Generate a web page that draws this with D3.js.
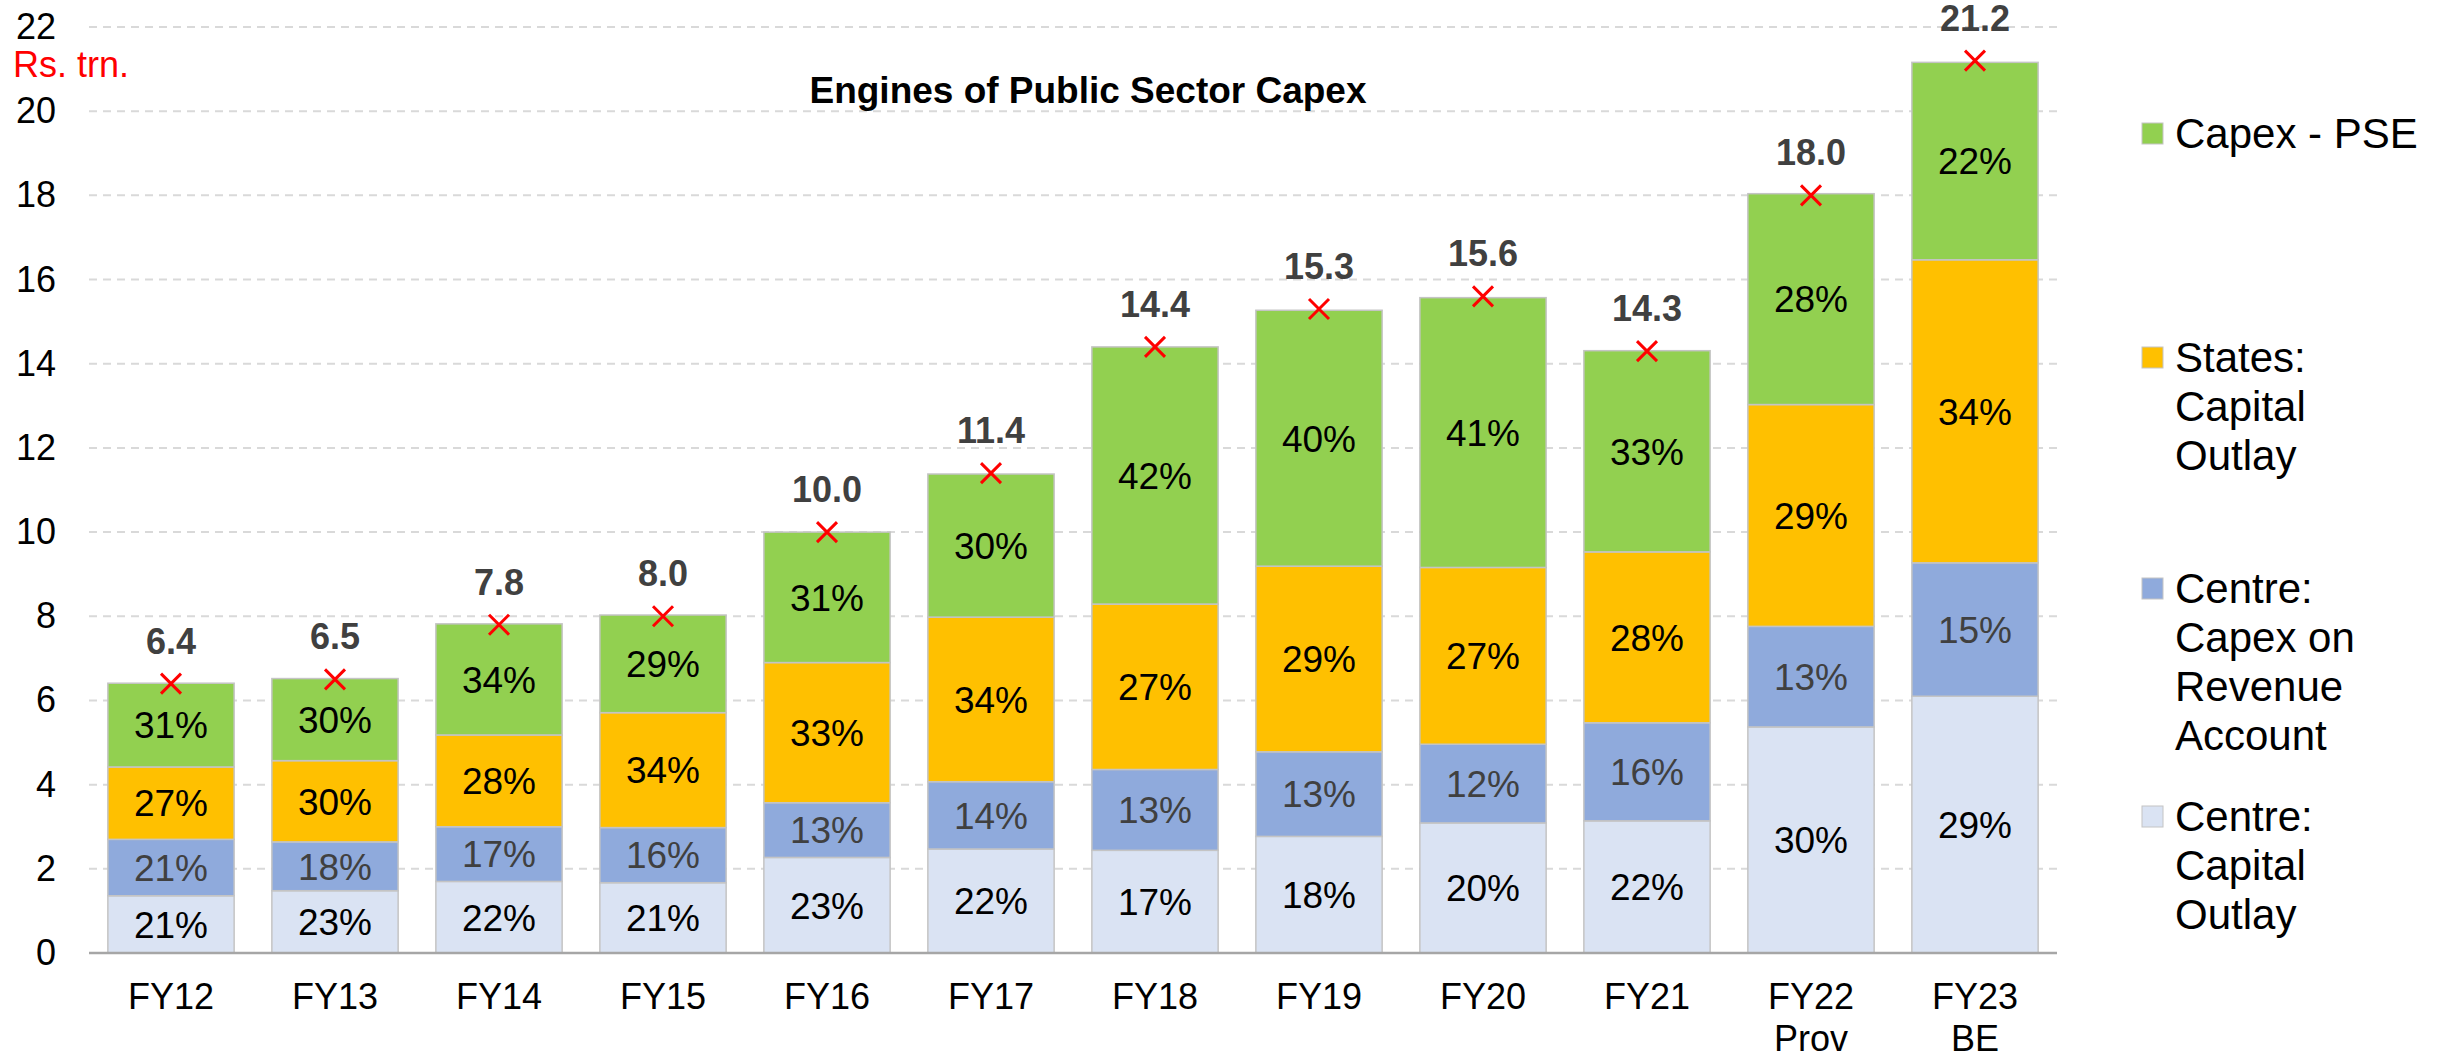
<!DOCTYPE html>
<html>
<head>
<meta charset="utf-8">
<script src="https://cdn.jsdelivr.net/npm/d3@7"></script>
<style>
  html, body { margin: 0; padding: 0; background: #fff; }
  svg { display: block; font-family: 'Liberation Sans', Arial, sans-serif; }
</style>
</head>
<body>
<div id="chart"></div>
<script>
let categories = ['FY12', 'FY13', 'FY14', 'FY15', 'FY16', 'FY17', 'FY18', 'FY19', 'FY20', 'FY21', 'FY22\nProv', 'FY23\nBE']

// Rs. trn. (bottom to top)
let centreCapital = [1.36, 1.48, 1.70, 1.67, 2.27, 2.47, 2.44, 2.77, 3.09, 3.14, 5.37, 6.10]
let centreRevenue = [1.34, 1.16, 1.30, 1.31, 1.30, 1.60, 1.92, 2.01, 1.87, 2.33, 2.39, 3.17]
let statesCapital = [1.72, 1.93, 2.18, 2.73, 3.33, 3.91, 3.93, 4.41, 4.20, 4.06, 5.27, 7.20]
let capexPSE = [1.99, 1.95, 2.64, 2.32, 3.10, 3.40, 6.11, 6.08, 6.41, 4.78, 5.01, 4.69]
let totals = [6.4, 6.5, 7.8, 8.0, 10.0, 11.4, 14.4, 15.3, 15.6, 14.3, 18.0, 21.2]

let yTicks = [0, 2, 4, 6, 8, 10, 12, 14, 16, 18, 20, 22]

let series = [
  { key: 'cc', name: ['Centre:', 'Capital', 'Outlay'], values: centreCapital, color: '#DAE3F3', text: '#000' },
  { key: 'cr', name: ['Centre:', 'Capex on', 'Revenue', 'Account'], values: centreRevenue, color: '#8FAADC', text: '#404040' },
  { key: 'st', name: ['States:', 'Capital', 'Outlay'], values: statesCapital, color: '#FFC000', text: '#000' },
  { key: 'pse', name: ['Capex - PSE'], values: capexPSE, color: '#92D050', text: '#000' }
]

let width = 2447
let height = 1053
let plotLeft = 89
let plotRight = 2057
let plotTop = 27
let plotBottom = 953

let rows = categories.map((c, i) => {
  let row = { cat: c }
  series.forEach(s => { row[s.key] = s.values[i] })
  return row
})

let stacked = d3.stack().keys(series.map(s => s.key))(rows)

let x = d3.scaleBand()
  .domain(categories)
  .range([plotLeft, plotRight])
  .paddingInner(0.23)
  .paddingOuter(0.115)

let y = d3.scaleLinear()
  .domain([0, 22])
  .range([plotBottom, plotTop])

let svg = d3.select('#chart').append('svg')
  .attr('width', width)
  .attr('height', height)

// grid
svg.append('g')
  .selectAll('line')
  .data(yTicks.filter(t => t > 0))
  .enter().append('line')
  .attr('x1', plotLeft)
  .attr('x2', plotRight)
  .attr('y1', d => y(d))
  .attr('y2', d => y(d))
  .attr('stroke', '#d9d9d9')
  .attr('stroke-width', 2)
  .attr('stroke-dasharray', '8,6')

// y axis labels
let yAxis = svg.append('g')
  .attr('transform', 'translate(' + 56 + ',0)')
  .call(d3.axisLeft(y).tickValues(yTicks).tickSize(0).tickPadding(0))
yAxis.select('.domain').remove()
yAxis.selectAll('text')
  .attr('font-size', 36)
  .attr('font-family', "'Liberation Sans', Arial, sans-serif")
  .attr('fill', '#000')

// bars
let layer = svg.append('g')
  .selectAll('g')
  .data(stacked)
  .enter().append('g')
  .attr('fill', (d, i) => series[i].color)

layer.selectAll('rect')
  .data(d => d)
  .enter().append('rect')
  .attr('x', d => x(d.data.cat))
  .attr('width', x.bandwidth())
  .attr('y', d => y(d[1]))
  .attr('height', d => y(d[0]) - y(d[1]))
  .attr('stroke', '#c4c4c4')
  .attr('stroke-width', 1.5)

// percentage labels
stacked.forEach((s, i) => {
  svg.append('g')
    .selectAll('text')
    .data(s)
    .enter().append('text')
    .attr('x', d => x(d.data.cat) + x.bandwidth() / 2)
    .attr('y', d => (y(d[0]) + y(d[1])) / 2)
    .attr('dy', '0.36em')
    .attr('text-anchor', 'middle')
    .attr('font-size', 37)
    .attr('fill', series[i].text)
    .text((d, j) => {
      let sum = series.reduce((a, ss) => a + ss.values[j], 0)
      return Math.round(series[i].values[j] / sum * 100) + '%'
    })
})

// x axis line
svg.append('line')
  .attr('x1', plotLeft)
  .attr('x2', plotRight)
  .attr('y1', plotBottom)
  .attr('y2', plotBottom)
  .attr('stroke', '#a6a6a6')
  .attr('stroke-width', 2.5)

// category labels
let cats = svg.append('g')
  .selectAll('text')
  .data(categories)
  .enter().append('text')
  .attr('x', d => x(d) + x.bandwidth() / 2)
  .attr('y', 1009)
  .attr('text-anchor', 'middle')
  .attr('font-size', 36)
  .attr('fill', '#000')
cats.selectAll('tspan')
  .data(d => d.split('\n'))
  .enter().append('tspan')
  .attr('x', function () { return d3.select(this.parentNode).attr('x') })
  .attr('dy', (d, i) => i == 0 ? 0 : 42)
  .text(d => d)

// total markers
let marks = svg.append('g')
  .selectAll('g')
  .data(totals)
  .enter().append('g')
  .attr('transform', (d, i) => 'translate(' + (x(categories[i]) + x.bandwidth() / 2) + ',' + y(d) + ')')
marks.append('path')
  .attr('d', 'M-10,-10L10,10M-10,10L10,-10')
  .attr('stroke', '#ff0000')
  .attr('stroke-width', 3)
  .attr('fill', 'none')
marks.append('text')
  .attr('y', -30)
  .attr('text-anchor', 'middle')
  .attr('font-size', 36)
  .attr('font-weight', 'bold')
  .attr('fill', '#404040')
  .text(d => d.toFixed(1))

// title and unit
svg.append('text')
  .attr('x', 1088)
  .attr('y', 103)
  .attr('text-anchor', 'middle')
  .attr('font-size', 36)
  .attr('font-weight', 'bold')
  .attr('textLength', 557)
  .attr('lengthAdjust', 'spacingAndGlyphs')
  .text('Engines of Public Sector Capex')

svg.append('text')
  .attr('x', 13)
  .attr('y', 77)
  .attr('font-size', 36)
  .attr('fill', '#ff0000')
  .text('Rs. trn.')

// legend, top entry first
let legendY = [148, 372, 603, 831]
let legend = svg.append('g')
  .selectAll('g')
  .data(series.slice().reverse())
  .enter().append('g')
  .attr('transform', (d, i) => 'translate(2142,' + legendY[i] + ')')
legend.append('rect')
  .attr('x', 0)
  .attr('y', -25)
  .attr('width', 21)
  .attr('height', 21)
  .attr('fill', d => d.color)
  .attr('stroke', '#c4c4c4')
  .attr('stroke-width', 1)
legend.append('text')
  .attr('x', 33)
  .attr('font-size', 42)
  .attr('fill', '#000')
  .selectAll('tspan')
  .data(d => d.name)
  .enter().append('tspan')
  .attr('x', 33)
  .attr('dy', (d, i) => i == 0 ? 0 : 49)
  .text(d => d)
</script>
</body>
</html>
